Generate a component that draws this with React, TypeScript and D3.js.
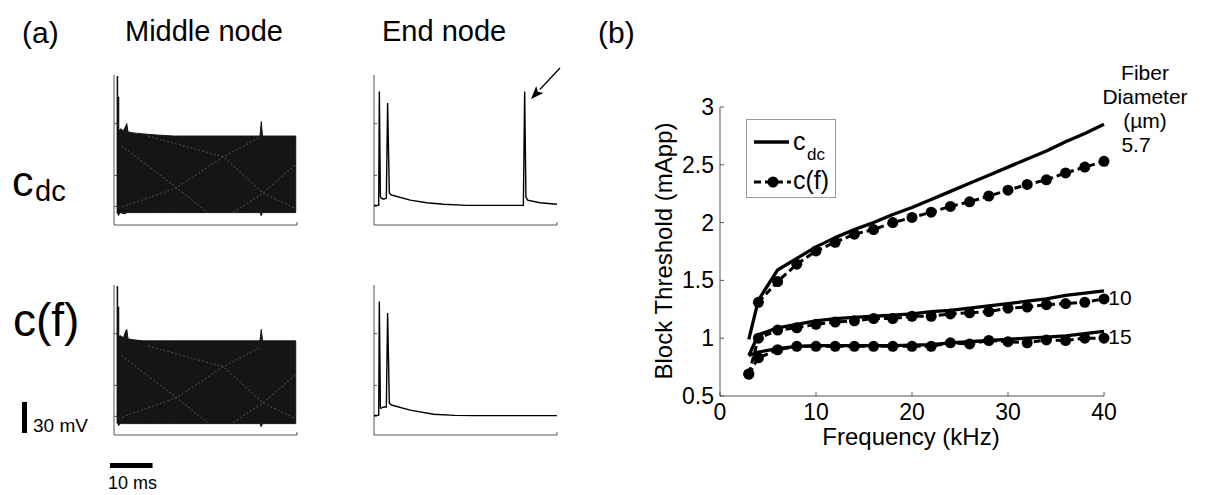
import React from "react";
import * as d3 from "d3";

// ---------- Panel (b) data ----------
const freqAll = [3, 4, 6, 8, 10, 12, 14, 16, 18, 20, 22, 24, 26, 28, 30, 32, 34, 36, 38, 40];
const freqNo3 = [4, 6, 8, 10, 12, 14, 16, 18, 20, 22, 24, 26, 28, 30, 32, 34, 36, 38, 40];
const cdc57 = [0.99, 1.33, 1.59, 1.69, 1.79, 1.87, 1.94, 2.0, 2.07, 2.13, 2.2, 2.27, 2.34, 2.41, 2.48, 2.55, 2.62, 2.7, 2.77, 2.85];
const cf57 = [1.31, 1.49, 1.64, 1.755, 1.83, 1.9, 1.94, 2.0, 2.045, 2.09, 2.14, 2.18, 2.23, 2.28, 2.33, 2.37, 2.43, 2.48, 2.53];
const cdc10 = [0.85, 1.03, 1.09, 1.12, 1.15, 1.17, 1.18, 1.19, 1.2, 1.21, 1.23, 1.24, 1.26, 1.28, 1.3, 1.32, 1.34, 1.37, 1.39, 1.41];
const cf10 = [0.69, 1.0, 1.07, 1.09, 1.12, 1.14, 1.15, 1.17, 1.17, 1.19, 1.19, 1.21, 1.22, 1.23, 1.26, 1.27, 1.29, 1.3, 1.31, 1.34];
const cdc15 = [0.85, 0.88, 0.91, 0.93, 0.935, 0.935, 0.935, 0.935, 0.935, 0.94, 0.945, 0.96, 0.97, 0.98, 0.99, 1.0, 1.01, 1.02, 1.04, 1.06];
const cf15 = [0.69, 0.83, 0.9, 0.93, 0.93, 0.93, 0.93, 0.93, 0.93, 0.93, 0.93, 0.96, 0.95, 0.98, 0.97, 0.96, 0.985, 0.98, 1.0, 1.0];
const yTicks = [0.5, 1, 1.5, 2, 2.5, 3];
const yTickLabels = ["0.5", "1", "1.5", "2", "2.5", "3"];
const xTicks = [0, 10, 20, 30, 40];
const diameterLabels = ["5.7", "10", "15"];

// ---------- Panel (a) data (time in ms, voltage in mV) ----------
const midT = [1.0, 1.5, 2.2, 2.8, 3.0, 3.3, 4.5, 7, 10, 14, 34.3, 34.6, 34.9, 42.7];
const midDcTop = [-8, -5, -7, -2, 0, -8, -9, -10, -11, -12, -12, 2, -12, -12];
const midDcBot = [-89, -86, -87, -87, -86, -86, -86, -86, -86, -86, -86, -89, -86, -86];
const midCfTop = [-3, -2, -4, 3, 4, -5, -6, -7, -7, -7, -7, 4, -7, -7];
const midCfBot = [-89, -87, -87, -87, -87, -87, -87, -87, -87, -87, -87, -90, -87, -87];
const midSpikeT = [0.8, 1.05];
const midSpikePeak = [46, 26];
// beat pattern visible inside the dense oscillation band
const beatT1 = [1, 14.7, 22];
const beatV1 = [-19, -62, -86];
const beatT2 = [1, 14.7, 25.7, 34.4];
const beatV2 = [-82, -62, -32, -13];
const beatT3 = [8, 25.7, 35, 42.6];
const beatV3 = [-12, -32, -67, -82];
const beatT4 = [28, 35, 42.6];
const beatV4 = [-86, -67, -40];

const endDcT = [0, 1.1, 1.25, 1.5, 1.7, 2.3, 2.9, 3.2, 3.6, 4.1, 8.5, 12.4, 16.3, 21.8, 35.1, 35.4, 35.7, 36.1, 39, 43];
const endDcV = [-79, -79, 31, -70, -72, -73, -72, 20, -67, -69, -74, -76.5, -78, -79, -79, 31, -71, -74, -76.5, -78];
const endCfT = [0, 1.1, 1.25, 1.5, 1.7, 2.3, 2.9, 3.2, 3.6, 4.1, 8.5, 14, 19, 24, 43];
const endCfV = [-79, -79, 31, -72, -72, -71, -71, 20, -67, -69, -74, -78, -79, -79.3, -79.3];
const vTicks = [0, -50, -80];

const FONT = "'Liberation Sans', Arial, Helvetica, sans-serif";

export default function App() {
  // panel (b) scales
  const x = d3.scaleLinear().domain([0, 40]).range([720, 1104]);
  const y = d3.scaleLinear().domain([0.5, 3]).range([396, 107]);
  const line = d3.line<[number, number]>().x((d) => x(d[0])).y((d) => y(d[1]));
  const zip = (xs: number[], ys: number[]) => xs.map((v, i) => [v, ys[i]] as [number, number]);

  const solids = [zip(freqAll, cdc57), zip(freqAll, cdc10), zip(freqAll, cdc15)];
  const dashed = [zip(freqNo3, cf57), zip(freqAll, cf10), zip(freqAll, cf15)];

  // panel (a) scales
  const tMid = d3.scaleLinear().domain([0, 43]).range([114, 297]);
  const tEnd = d3.scaleLinear().domain([0, 43]).range([374, 557]);
  const vTop = d3.scaleLinear().domain([-98, 47]).range([225, 75]);
  const vBot = d3.scaleLinear().domain([-98, 47]).range([435, 285]);

  const band = (ts: d3.ScaleLinear<number, number>, vs: d3.ScaleLinear<number, number>, top: number[], bot: number[]) =>
    d3
      .area<number>()
      .x((d) => ts(d))
      .y0((_, i) => vs(bot[i]))
      .y1((_, i) => vs(top[i]))(midT) as string;

  const trace = (ts: d3.ScaleLinear<number, number>, vs: d3.ScaleLinear<number, number>, tt: number[], vv: number[]) =>
    d3
      .line<number>()
      .x((d) => ts(d))
      .y((_, i) => vs(vv[i]))(tt) as string;

  const traceAxes = (ts: d3.ScaleLinear<number, number>, vs: d3.ScaleLinear<number, number>, key: string) => {
    const x0 = ts(0);
    const x1 = ts(43);
    const yb = vs(-98);
    const yt = vs(47);
    return (
      <g key={key} stroke="#555" strokeWidth={1} fill="none">
        <line x1={x0} x2={x0} y1={yt} y2={yb} />
        <line x1={x0} x2={x1} y1={yb} y2={yb} />
        <line x1={x1} x2={x1} y1={yb} y2={yb - 3} />
        {vTicks.map((v) => (
          <line key={v} x1={x0} x2={x0 + 3} y1={vs(v)} y2={vs(v)} />
        ))}
      </g>
    );
  };

  const beats: [number[], number[]][] = [
    [beatT1, beatV1],
    [beatT2, beatV2],
    [beatT3, beatV3],
    [beatT4, beatV4],
  ];

  const midPanel = (vs: d3.ScaleLinear<number, number>, top: number[], bot: number[], key: string) => (
    <g key={key}>
      {traceAxes(tMid, vs, key + "ax")}
      <path d={band(tMid, vs, top, bot)} fill="#151515" stroke="#151515" strokeWidth={1} />
      {beats.map((b, i) => (
        <path key={i} d={trace(tMid, vs, b[0], b[1])} fill="none" stroke="#444" strokeWidth={1.2} strokeDasharray="2 2" />
      ))}
      {midSpikeT.map((t, i) => (
        <line key={i} x1={tMid(t)} x2={tMid(t)} y1={vs(-87)} y2={vs(midSpikePeak[i])} stroke="#111" strokeWidth={1.6} />
      ))}
    </g>
  );

  // arrow geometry
  const tip: [number, number] = [531, 99];
  const tail: [number, number] = [560, 68];
  const dx = tail[0] - tip[0];
  const dy = tail[1] - tip[1];
  const len = Math.hypot(dx, dy);
  const ux = dx / len;
  const uy = dy / len;
  const hb: [number, number] = [tip[0] + ux * 13, tip[1] + uy * 13];
  const px = -uy * 5;
  const py = ux * 5;

  const barH = vBot(0) - vBot(30);

  return (
    <svg
      width={1209}
      height={495}
      style={{ position: "absolute", left: 0, top: 0, background: "#fff" }}
      fontFamily={FONT}
    >
      {/* ---------- Panel (a) ---------- */}
      <text x={22} y={43} fontSize={30}>(a)</text>
      <text x={125} y={41} fontSize={29}>Middle node</text>
      <text x={382} y={41} fontSize={29}>End node</text>

      <text x={12} y={196} fontSize={43}>c</text>
      <text x={35} y={201} fontSize={29}>dc</text>
      <text x={13} y={336} fontSize={46}>c(f)</text>

      {midPanel(vTop, midDcTop, midDcBot, "mdc")}
      {midPanel(vBot, midCfTop, midCfBot, "mcf")}

      {traceAxes(tEnd, vTop, "edcax")}
      <path d={trace(tEnd, vTop, endDcT, endDcV)} fill="none" stroke="#000" strokeWidth={1.4} />
      {traceAxes(tEnd, vBot, "ecfax")}
      <path d={trace(tEnd, vBot, endCfT, endCfV)} fill="none" stroke="#000" strokeWidth={1.4} />

      {/* arrow */}
      <line x1={tail[0]} y1={tail[1]} x2={hb[0]} y2={hb[1]} stroke="#000" strokeWidth={1.3} />
      <path
        d={`M${tip[0]},${tip[1]} L${hb[0] + px},${hb[1] + py} L${hb[0] - ux * 3},${hb[1] - uy * 3} L${hb[0] - px},${hb[1] - py} Z`}
        fill="#000"
      />

      {/* scale bars */}
      <rect x={22} y={433 - barH} width={5} height={barH} fill="#000" />
      <text x={33} y={432} fontSize={19}>30 mV</text>
      <rect x={110} y={463} width={tMid(10) - tMid(0)} height={5} fill="#000" />
      <text x={108} y={489} fontSize={18}>10 ms</text>

      {/* ---------- Panel (b) ---------- */}
      <text x={598} y={43} fontSize={30}>(b)</text>

      <g stroke="#555" strokeWidth={1}>
        <line x1={720} x2={720} y1={y(3)} y2={y(0.5)} />
        <line x1={720} x2={1104} y1={y(0.5)} y2={y(0.5)} />
        {yTicks.map((t) => (
          <line key={t} x1={720} x2={724} y1={y(t)} y2={y(t)} />
        ))}
        {xTicks.map((t) => (
          <line key={t} x1={x(t)} x2={x(t)} y1={y(0.5)} y2={y(0.5) - 4} />
        ))}
      </g>
      {yTicks.map((t, i) => (
        <text key={t} x={714} y={y(t) + 8} fontSize={23} textAnchor="end">
          {yTickLabels[i]}
        </text>
      ))}
      {xTicks.map((t) => (
        <text key={t} x={x(t)} y={420} fontSize={23} textAnchor="middle">
          {t}
        </text>
      ))}
      <text x={911} y={445} fontSize={24} textAnchor="middle">Frequency (kHz)</text>
      <text transform="translate(672,251) rotate(-90)" fontSize={24} textAnchor="middle">
        Block Threshold (mApp)
      </text>

      {solids.map((s, i) => (
        <path key={i} d={line(s) as string} fill="none" stroke="#000" strokeWidth={3.3} strokeLinejoin="round" />
      ))}
      {dashed.map((s, i) => (
        <g key={i}>
          <path d={line(s) as string} fill="none" stroke="#000" strokeWidth={3} strokeDasharray="7 4" />
          {s.map((p, j) => (
            <circle key={j} cx={x(p[0])} cy={y(p[1])} r={5.5} fill="#000" />
          ))}
        </g>
      ))}

      {/* legend */}
      <rect x={746.5} y={119.5} width={89} height={78} fill="#fff" stroke="#999" strokeWidth={1} />
      <line x1={754} x2={789} y1={142} y2={142} stroke="#000" strokeWidth={3.3} />
      <text x={793} y={150} fontSize={25}>c</text>
      <text x={807} y={160} fontSize={17}>dc</text>
      <line x1={754} x2={791} y1={182} y2={182} stroke="#000" strokeWidth={3} strokeDasharray="7 4" />
      <circle cx={773} cy={182} r={5.5} fill="#000" />
      <text x={793} y={189} fontSize={25}>c(f)</text>

      {/* fiber diameter labels */}
      <text x={1145} y={80} fontSize={21} textAnchor="middle">Fiber</text>
      <text x={1145} y={104} fontSize={21} textAnchor="middle">Diameter</text>
      <text x={1145} y={128} fontSize={21} textAnchor="middle">(µm)</text>
      <text x={1136} y={152} fontSize={21} textAnchor="middle">{diameterLabels[0]}</text>
      <text x={1120} y={305} fontSize={21} textAnchor="middle">{diameterLabels[1]}</text>
      <text x={1120} y={344} fontSize={21} textAnchor="middle">{diameterLabels[2]}</text>
    </svg>
  );
}
